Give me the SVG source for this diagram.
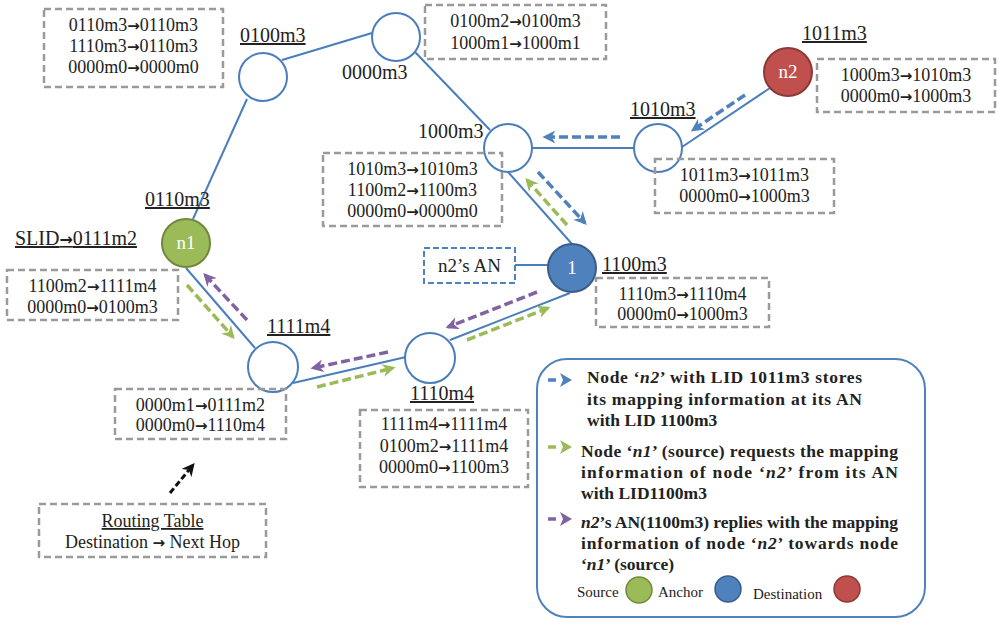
<svg xmlns="http://www.w3.org/2000/svg" width="997" height="627" viewBox="0 0 997 627">
  <style>
    text { font-family: "Liberation Serif", "Times New Roman", serif; fill: #222; }
    .lbl { font-size: 20px; }
    .ul { text-decoration: underline; }
    .row { font-size: 18px; text-anchor: middle; }
    .ar { font-family: "DejaVu Sans", sans-serif; font-weight: bold; font-size: 15px; }
    .tbl { fill: none; stroke: #9a9a9a; stroke-width: 2.5; stroke-dasharray: 7 4; }
    .link { stroke: #4a7ebb; stroke-width: 2; fill: none; }
    .node { fill: #fff; stroke: #4a7ebb; stroke-width: 2; }
    .inner { font-size: 19px; fill: #fff; text-anchor: middle; }
    .flow { stroke-width: 3.5; stroke-dasharray: 9 4; fill: none; }
    .leg { font-size: 17.5px; font-weight: bold; }
    .key { font-size: 15px; }
  </style>
  <defs>
    <marker id="headBlue" viewBox="0 0 10 10" refX="8" refY="5" markerWidth="13" markerHeight="13" markerUnits="userSpaceOnUse" orient="auto">
      <path d="M0,0 L10,5 L0,10 L3,5 z" fill="#4f81bd"/>
    </marker>
    <marker id="headGreen" viewBox="0 0 10 10" refX="8" refY="5" markerWidth="13" markerHeight="13" markerUnits="userSpaceOnUse" orient="auto">
      <path d="M0,0 L10,5 L0,10 L3,5 z" fill="#9bbb59"/>
    </marker>
    <marker id="headPurple" viewBox="0 0 10 10" refX="8" refY="5" markerWidth="13" markerHeight="13" markerUnits="userSpaceOnUse" orient="auto">
      <path d="M0,0 L10,5 L0,10 L3,5 z" fill="#8064a2"/>
    </marker>
    <marker id="headBlack" viewBox="0 0 10 10" refX="8" refY="5" markerWidth="13" markerHeight="13" markerUnits="userSpaceOnUse" orient="auto">
      <path d="M0,0 L10,5 L0,10 L3,5 z" fill="#111"/>
    </marker>
  </defs>

  <!-- network links -->
  <g id="links">
    <line class="link" x1="282" y1="60" x2="372" y2="33"/>
    <line class="link" x1="415" y1="52" x2="490" y2="130"/>
    <line class="link" x1="247" y1="99" x2="193" y2="219"/>
    <line class="link" x1="532" y1="148" x2="634" y2="148"/>
    <line class="link" x1="682" y1="147" x2="770" y2="88"/>
    <line class="link" x1="508" y1="172" x2="572" y2="244"/>
    <line class="link" x1="570" y1="293" x2="450" y2="340"/>
    <line class="link" x1="293" y1="383" x2="406" y2="357"/>
    <line class="link" x1="255" y1="348" x2="186" y2="268"/>
    <line class="link" x1="515" y1="265" x2="548" y2="265"/>
  </g>

  <!-- message flows -->
  <g id="flows">
    <line class="flow" stroke="#4f81bd" x1="745" y1="95" x2="693" y2="130" marker-end="url(#headBlue)"/>
    <line class="flow" stroke="#4f81bd" x1="620" y1="137" x2="545" y2="137" marker-end="url(#headBlue)"/>
    <line class="flow" stroke="#4f81bd" x1="538" y1="172" x2="585" y2="223" marker-end="url(#headBlue)"/>
    <line class="flow" stroke="#9bbb59" x1="567" y1="225" x2="527" y2="180" marker-end="url(#headGreen)"/>
    <line class="flow" stroke="#9bbb59" x1="467" y1="340" x2="548" y2="308" marker-end="url(#headGreen)"/>
    <line class="flow" stroke="#8064a2" x1="537" y1="292" x2="448" y2="327" marker-end="url(#headPurple)"/>
    <line class="flow" stroke="#9bbb59" x1="317" y1="387" x2="393" y2="368" marker-end="url(#headGreen)"/>
    <line class="flow" stroke="#8064a2" x1="388" y1="352" x2="313" y2="368" marker-end="url(#headPurple)"/>
    <line class="flow" stroke="#9bbb59" x1="187" y1="285" x2="233" y2="337" marker-end="url(#headGreen)"/>
    <line class="flow" stroke="#8064a2" x1="247" y1="320" x2="205" y2="275" marker-end="url(#headPurple)"/>
    <line stroke="#111" stroke-width="3" stroke-dasharray="6 3" x1="170" y1="493" x2="193" y2="465" marker-end="url(#headBlack)"/>
  </g>

  <g id="node-0100m3">
    <circle class="node" cx="263" cy="77" r="24"/>
    <text class="lbl ul" x="240" y="42">0100m3</text>
    <rect class="tbl" x="44" y="9" width="179" height="78"/>
    <text class="row" x="133.5" y="31">0110m3<tspan class="ar">→</tspan>0110m3</text>
    <text class="row" x="133.5" y="52">1110m3<tspan class="ar">→</tspan>0110m3</text>
    <text class="row" x="133.5" y="73">0000m0<tspan class="ar">→</tspan>0000m0</text>
  </g>

  <g id="node-0000m3">
    <circle class="node" cx="396" cy="37" r="24"/>
    <text class="lbl" x="342" y="79">0000m3</text>
    <rect class="tbl" x="425" y="5" width="181" height="54"/>
    <text class="row" x="515.5" y="27">0100m2<tspan class="ar">→</tspan>0100m3</text>
    <text class="row" x="515.5" y="49">1000m1<tspan class="ar">→</tspan>1000m1</text>
  </g>

  <g id="node-n2">
    <circle cx="788" cy="72" r="24" fill="#c0504d" stroke="#8c3836" stroke-width="2"/>
    <text class="inner" x="788" y="78">n2</text>
    <text class="lbl ul" x="802" y="40">1011m3</text>
    <rect class="tbl" x="817" y="59" width="178" height="53"/>
    <text class="row" x="906" y="81">1000m3<tspan class="ar">→</tspan>1010m3</text>
    <text class="row" x="906" y="102">0000m0<tspan class="ar">→</tspan>1000m3</text>
  </g>

  <g id="node-1010m3">
    <circle class="node" cx="658" cy="148" r="24"/>
    <text class="lbl ul" x="630" y="116">1010m3</text>
    <rect class="tbl" x="655" y="159" width="179" height="54"/>
    <text class="row" x="744.5" y="181">1011m3<tspan class="ar">→</tspan>1011m3</text>
    <text class="row" x="744.5" y="202">0000m0<tspan class="ar">→</tspan>1000m3</text>
  </g>

  <g id="node-1000m3">
    <circle class="node" cx="508" cy="148" r="24"/>
    <text class="lbl" x="418" y="138">1000m3</text>
    <rect class="tbl" x="323" y="153" width="179" height="73"/>
    <text class="row" x="412.5" y="175">1010m3<tspan class="ar">→</tspan>1010m3</text>
    <text class="row" x="412.5" y="196">1100m2<tspan class="ar">→</tspan>1100m3</text>
    <text class="row" x="412.5" y="217">0000m0<tspan class="ar">→</tspan>0000m0</text>
  </g>

  <g id="node-anchor">
    <circle cx="572" cy="268" r="24" fill="#4f81bd" stroke="#385d8a" stroke-width="2"/>
    <text class="inner" x="572" y="274">1</text>
    <text class="lbl ul" x="602" y="271">1100m3</text>
    <rect x="424" y="248" width="91" height="35" fill="none" stroke="#4f81bd" stroke-width="2" stroke-dasharray="6 3"/>
    <text x="469.5" y="272" style="font-size:19px" text-anchor="middle">n2’s AN</text>
    <rect class="tbl" x="596" y="278" width="173" height="49"/>
    <text class="row" x="682.5" y="300">1110m3<tspan class="ar">→</tspan>1110m4</text>
    <text class="row" x="682.5" y="320">0000m0<tspan class="ar">→</tspan>1000m3</text>
  </g>

  <g id="node-n1">
    <circle cx="186" cy="243" r="24" fill="#9bbb59" stroke="#71893f" stroke-width="2"/>
    <text class="inner" x="186" y="249">n1</text>
    <text class="lbl ul" x="145" y="206">0110m3</text>
    <text class="lbl ul" x="15" y="245">SLID<tspan class="ar" style="font-size:16px">→</tspan>0111m2</text>
    <rect class="tbl" x="7" y="270" width="171" height="50"/>
    <text class="row" x="92.5" y="292">1100m2<tspan class="ar">→</tspan>1111m4</text>
    <text class="row" x="92.5" y="313">0000m0<tspan class="ar">→</tspan>0100m3</text>
  </g>

  <g id="node-1111m4">
    <circle class="node" cx="273" cy="367" r="25"/>
    <text class="lbl ul" x="267" y="333">1111m4</text>
    <rect class="tbl" x="115" y="389" width="171" height="50"/>
    <text class="row" x="200.5" y="411">0000m1<tspan class="ar">→</tspan>0111m2</text>
    <text class="row" x="200.5" y="431">0000m0<tspan class="ar">→</tspan>1110m4</text>
  </g>

  <g id="node-1110m4">
    <circle class="node" cx="430" cy="358" r="25"/>
    <text class="lbl ul" x="410" y="400">1110m4</text>
    <rect class="tbl" x="360" y="410" width="168" height="77"/>
    <text class="row" x="444" y="430">1111m4<tspan class="ar">→</tspan>1111m4</text>
    <text class="row" x="444" y="452">0100m2<tspan class="ar">→</tspan>1111m4</text>
    <text class="row" x="444" y="473">0000m0<tspan class="ar">→</tspan>1100m3</text>
  </g>

  <g id="routing-key">
    <rect class="tbl" x="39" y="504" width="227" height="53"/>
    <text class="row ul" x="152.5" y="527">Routing Table</text>
    <text class="row" x="152.5" y="548">Destination <tspan class="ar">→</tspan> Next Hop</text>
  </g>

  <!-- legend panel -->
  <g id="legend">
    <rect x="537" y="359" width="388" height="258" rx="30" ry="30" fill="#fff" stroke="#4f81bd" stroke-width="2"/>

    <path d="M548,380 h8" stroke="#4f81bd" stroke-width="3.5"/>
    <path d="M560,373 L572,380 L560,387 L563,380 z" fill="#4f81bd"/>
    <text class="leg" x="587" y="383" textLength="275" lengthAdjust="spacing">Node ‘<tspan font-style="italic">n2</tspan>’ with LID 1011m3 stores</text>
    <text class="leg" x="587" y="405" textLength="275" lengthAdjust="spacing">its mapping information at its AN</text>
    <text class="leg" x="587" y="426">with LID 1100m3</text>

    <path d="M548,447 h8" stroke="#9bbb59" stroke-width="3.5"/>
    <path d="M560,440 L572,447 L560,454 L563,447 z" fill="#9bbb59"/>
    <text class="leg" x="581" y="457" textLength="317" lengthAdjust="spacing">Node ‘<tspan font-style="italic">n1</tspan>’ (source) requests the mapping</text>
    <text class="leg" x="581" y="478" textLength="317" lengthAdjust="spacing">information of node ‘<tspan font-style="italic">n2</tspan>’ from its AN</text>
    <text class="leg" x="581" y="499">with LID1100m3</text>

    <path d="M548,519 h8" stroke="#8064a2" stroke-width="3.5"/>
    <path d="M560,512 L572,519 L560,526 L563,519 z" fill="#8064a2"/>
    <text class="leg" x="581" y="528" textLength="317" lengthAdjust="spacing"><tspan font-style="italic">n2</tspan>’s AN(1100m3) replies with the mapping</text>
    <text class="leg" x="581" y="549" textLength="317" lengthAdjust="spacing">information of node ‘<tspan font-style="italic">n2</tspan>’ towards node</text>
    <text class="leg" x="581" y="570">‘<tspan font-style="italic">n1</tspan>’ (source)</text>

    <text class="key" x="577" y="597">Source</text>
    <circle cx="639" cy="590" r="13" fill="#9bbb59" stroke="#71893f" stroke-width="1.5"/>
    <text class="key" x="658" y="597">Anchor</text>
    <circle cx="728" cy="589" r="13" fill="#4f81bd" stroke="#385d8a" stroke-width="1.5"/>
    <text class="key" x="753" y="599">Destination</text>
    <circle cx="847" cy="589" r="13" fill="#c0504d" stroke="#8c3836" stroke-width="1.5"/>
  </g>
</svg>
